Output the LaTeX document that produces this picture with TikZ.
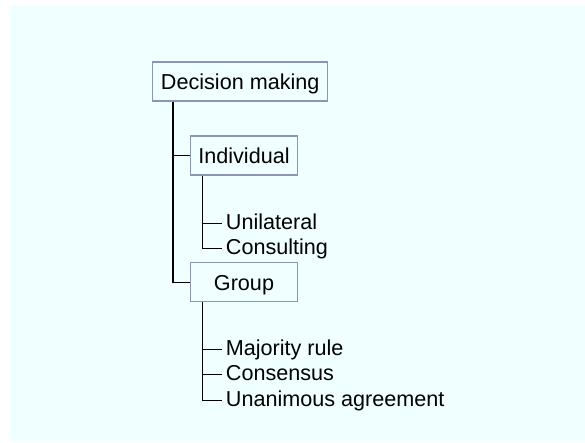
\documentclass[tikz,border=0pt]{standalone}
\usepackage{fontspec}
\setmainfont{Liberation Sans}
\definecolor{panelbg}{HTML}{F0FFFF}
\definecolor{boxline}{HTML}{8A96B4}
\begin{document}
\begin{tikzpicture}[x=1pt,y=-1pt,
  every node/.style={font=\fontsize{21.6}{26}\selectfont},
  catbox/.style={draw=boxline,line width=1.2pt,fill=panelbg,rectangle,
    minimum height=39pt,inner sep=0pt,text height=15.5pt,text depth=0pt},
  leaf/.style={anchor=west,inner xsep=4pt,inner ysep=0pt,
    text height=15.5pt,text depth=3.2pt},
  tree/.style={draw=black,line width=1.3pt}]
  \useasboundingbox (0,0) rectangle (585,442);
  \fill[panelbg] (10,5) rectangle (585,441);

  % category boxes
  \node[catbox,minimum width=175pt] (dm) at (240.2,81.5) {Decision making};
  \node[catbox,minimum width=106.6pt] (ind) at (244,155.5) {Individual};
  \node[catbox,minimum width=106.6pt] (grp) at (244,282.3) {Group};

  % leaves
  \node[leaf] (uni) at (221.7,223.8) {Unilateral};
  \node[leaf] (con) at (221.7,248.6) {Consulting};
  \node[leaf] (maj) at (221.7,349.3) {Majority rule};
  \node[leaf] (cns) at (221.7,374.8) {Consensus};
  \node[leaf] (una) at (221.7,400.2) {Unanimous agreement};

  % tree connectors
  \draw[tree] ([xshift=21.0pt]dm.south west) |- (ind.west);
  \draw[tree] ([xshift=21.0pt]dm.south west) |- (grp.west);
  \draw[tree] ([xshift=12.6pt]ind.south west) |- (uni.west);
  \draw[tree] ([xshift=12.6pt]ind.south west) |- (con.west);
  \draw[tree] ([xshift=12.6pt]grp.south west) |- (maj.west);
  \draw[tree] ([xshift=12.6pt]grp.south west) |- (cns.west);
  \draw[tree] ([xshift=12.6pt]grp.south west) |- (una.west);
\end{tikzpicture}
\end{document}
